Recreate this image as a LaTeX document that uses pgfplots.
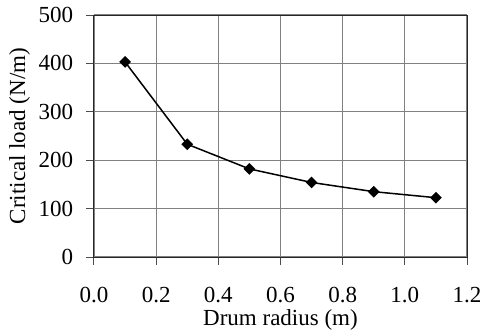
\documentclass[border=0pt]{standalone}
\usepackage{pgfplots}
\pgfplotsset{compat=1.18}
\usepackage{fontspec}
\setmainfont{Liberation Serif}
\begin{document}
\fontsize{23bp}{27bp}\selectfont
\begin{tikzpicture}[x=1bp,y=1bp]
\begin{axis}[
  scale only axis,
  width=373bp, height=242bp,
  xmin=0, xmax=1.2, ymin=0, ymax=500,
  xtick={0,0.2,...,1.2}, ytick={0,100,...,500},
  xticklabels={0.0,0.2,0.4,0.6,0.8,1.0,1.2},
  grid=major,
  grid style={line width=1.2bp, color=black!50},
  axis line style={line width=1bp, color=black!85},
  tick style={line width=1bp, color=black!70},
  tick align=outside,
  major tick length=8bp,
  xtick pos=bottom, ytick pos=left,
  /pgf/number format/assume math mode=true,
  every tick label/.append style={font=\fontsize{23bp}{27bp}\selectfont},
  every axis label/.append style={font=\fontsize{23bp}{27bp}\selectfont},
  xticklabel style={yshift=-14bp},
  yticklabel style={xshift=-5bp},
  xlabel={Drum radius (m)},
  ylabel={Critical load (N/m)},
  xlabel style={at={(axis description cs:0.5,0)}, anchor=base, yshift=-68bp},
  ylabel style={yshift=-7bp},
]
\addplot[black, line width=1.5bp, mark=square*, mark size=3.4bp, mark options={solid, fill=black, rotate=45}]
coordinates {(0.1,403) (0.3,233) (0.5,182) (0.7,154) (0.9,135) (1.1,122.5)};
\end{axis}
\pgfresetboundingbox
\path (current axis.south west) ++(-94bp,-74bp) rectangle ++(483bp,331bp);
\end{tikzpicture}
\end{document}
